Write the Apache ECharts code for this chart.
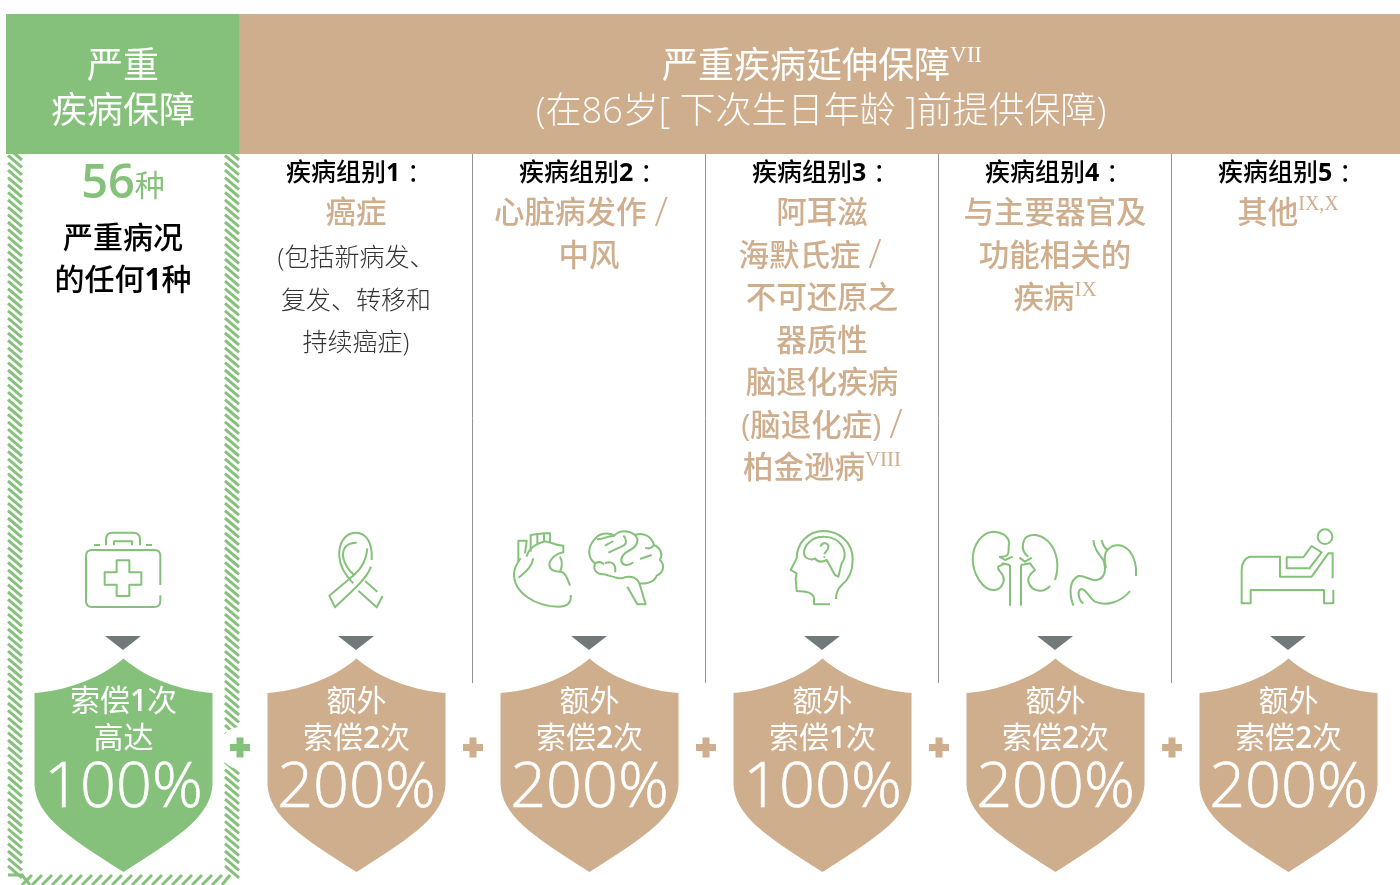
<!DOCTYPE html>
<html>
<head>
<meta charset="utf-8">
<title>严重疾病保障</title>
<style>
  html, body { margin: 0; padding: 0; background: #fff; }
  #chart { width: 1400px; height: 885px; }
</style>
<script src="https://cdn.jsdelivr.net/npm/echarts@6/dist/echarts.min.js"></script>
</head>
<body>
<div id="chart"></div>
<script>
// 数据
const categories = ['严重疾病', '疾病组别1', '疾病组别2', '疾病组别3', '疾病组别4', '疾病组别5']
const groupTitles = ['', '疾病组别1 ：', '疾病组别2 ：', '疾病组别3 ：', '疾病组别4 ：', '疾病组别5 ：']
const groupNames = [
  [],
  ['癌症'],
  ['心脏病发作 /\u00a0\u00a0', '中风'],
  ['阿耳滋', '海默氏症 /\u00a0\u00a0\u00a0', '不可还原之', '器质性', '脑退化疾病', '(脑退化症) /', '柏金逊病'],
  ['与主要器官及', '功能相关的', '疾病'],
  ['其他']
]
const groupNotes = ['', '', '', 'VIII', 'IX', 'IX,X']
const cancerNotes = ['(包括新病发、', '复发、转移和', '持续癌症)']
const mainCount = '56'
const mainCountUnit = '种'
const mainLines = ['严重病况', '的任何1种']
const claimLines = [
  ['索偿1次', '高达'],
  ['额外', '索偿2次'],
  ['额外', '索偿2次'],
  ['额外', '索偿1次'],
  ['额外', '索偿2次'],
  ['额外', '索偿2次']
]
const claimPercents = ['100%', '200%', '200%', '100%', '200%', '200%']
const headerLeft = ['严重', '疾病保障']
const headerRight = '严重疾病延伸保障'
const headerRightNote = 'VII'
const headerRightSub = '(在86岁[ 下次生日年龄 ]前提供保障)'

// 颜色配置
const GREEN = '#85c17a'
const TAN = '#cfae8d'
const GREY = '#72797b'
const RULE = '#8f9599'
const FONT = '"Open Sans","Noto Sans CJK SC",sans-serif'
const CJK = '"Noto Sans CJK SC",sans-serif'
const NOTE_FONT = '"Liberation Serif",serif'

// 图标路径（放大3倍的坐标）
const icons = [
  [0, 500, [
    'M481 255V168Q481 150 463 150H276Q258 150 258 168V303Q258 321 276 321H463Q481 321 481 303V286',
    'M318 136V118Q318 98 338 98H400Q420 98 420 118V136M342 136V124H396V136M282 135H300M438 135H456',
    'M350 181H388V217H424V254H388V288H350V254H314V217H350Z'
  ]],
  [0, 500, [
    'M1115 180C1118 130 1100 98 1067 98C1035 98 1015 130 1018 170C1020 205 1040 230 1060 250',
    'M1113 200C1105 225 1085 245 1068 262L1005 322L988 287L1062 225C1085 205 1100 175 1102 145',
    'M1095 243L1132 275M1148 288L1130 322L1075 272',
    'M1070 128C1040 128 1025 145 1030 175C1035 195 1045 210 1062 225'
  ]],
  [480, 515, [
    'M272 240C275 265 260 275 235 275C170 275 100 235 102 175C103 155 115 140 122 130',
    'M115 140V77H140L135 115M152 110V60L172 57V85M172 58L192 55V78M192 55H210V82',
    'M140 125C145 100 170 85 190 80C205 75 215 90 250 92V112C230 115 210 130 208 148C208 165 225 170 240 170C255 170 262 190 270 212',
    'M116 188C130 175 155 160 160 130M240 170C250 150 245 135 240 125',
    'M345 72C355 55 385 50 402 62C420 45 445 45 465 60C490 50 515 65 522 90C545 100 548 120 540 135C555 150 552 172 530 182C525 200 500 208 478 205C470 185 445 180 425 190C405 190 385 180 372 178C350 178 338 165 345 145C322 128 322 95 345 72Z',
    'M350 72C365 75 375 65 402 62M375 92L400 78M385 113L430 92C445 85 435 65 430 62M465 60C480 75 470 95 450 105C430 115 420 130 425 142C432 155 450 150 460 142M480 132L515 120M522 90C515 100 505 102 495 98M375 145C395 135 410 150 405 172M345 145C355 140 365 140 372 148',
    'M478 205L497 268H472L442 215'
  ]],
  [480, 515, [
    'M1050 268H1002V250C1000 235 985 228 950 228L947 190L950 175L932 165L950 130C950 85 985 48 1030 48C1080 48 1120 85 1118 135C1118 170 1105 195 1085 210C1070 225 1068 240 1068 252',
    'M1065 180L1075 185L1085 145C1100 125 1095 100 1080 85C1060 60 1010 60 990 80C975 90 968 110 975 125C985 135 1000 135 1005 130C1015 145 1030 140 1040 135C1050 150 1055 165 1065 180Z',
    'M1022 95C1025 80 1048 82 1045 98C1043 110 1033 110 1033 118M1033 124V128'
  ]],
  [950, 515, [
    'M148 125C190 130 170 95 178 85C175 60 150 50 130 50C95 52 68 90 68 135C70 180 100 225 130 225C155 225 165 200 160 185C155 170 140 165 145 155L165 145',
    'M180 150V272M213 150V272M148 125L165 135L188 125M155 145L180 150',
    'M235 125C215 110 215 90 225 70C240 55 270 55 295 80C320 105 330 150 315 195',
    'M300 213C280 235 245 232 235 200C232 180 250 170 255 165L240 145L213 150M208 128L225 140L245 128',
    'M430 75C432 100 445 115 460 135C470 165 465 190 440 195C425 200 405 180 385 183C360 195 355 230 370 272',
    'M455 75C458 90 465 100 472 105C490 85 520 85 540 110C555 130 560 155 558 183M472 105C462 115 462 135 468 160',
    'M540 228C515 260 470 275 435 260C420 250 410 225 395 222C380 225 385 255 400 265'
  ]],
  [950, 515, [
    'M1148 190V115H1135L1085 185H990V125H905C885 125 875 145 875 165V265H902V225H1122V265H1150V225',
    'M1010 127H1060L1085 93L1115 112L1078 160H1010Z',
    'M1147 65A22 22 0 1 1 1103 65A22 22 0 1 1 1147 65Z'
  ]]
]

const text = (str, x, y, size, fill, weight, extra) => ({
  type: 'text',
  style: Object.assign({
    text: str, x, y, fill,
    fontSize: size, fontWeight: weight || 400, fontFamily: FONT,
    align: 'center', verticalAlign: 'middle'
  }, extra || {})
})

// 数字、斜线、冒号用不同字重
const mixed = (str, x, y, size, fill, weight, digitWeight, note, noteSize) => {
  let s = str
    .replace(/[^0-9/：]+/g, m => `{c|${m}}`)
    .replace(/[0-9]+/g, m => `{d|${m}}`)
    .replace(/\//g, '{l|/}')
    .replace(/：/g, '{k|：}')
  if (note) s += `{s|${note}}`
  const lh = Math.round(size * 1.3)
  const base = { fill, lineHeight: lh }
  return text(s, x, y, size, fill, weight, {
    rich: {
      c: { ...base, fontSize: size, fontWeight: weight, fontFamily: FONT },
      d: { ...base, fontSize: size, fontWeight: digitWeight, fontFamily: FONT },
      l: { ...base, fontSize: size * 1.3, fontWeight: 300, fontFamily: FONT },
      k: { ...base, fontSize: size, fontWeight: 400, fontFamily: FONT },
      s: { fill, fontSize: noteSize, fontWeight: 400, fontFamily: NOTE_FONT, lineHeight: noteSize + 7, verticalAlign: 'top' }
    }
  })
}

// 斜线纹边框
const hatchPath = () => {
  let d = ''
  for (let y = 148; y < 872; y += 7.4) {
    d += `M8 ${y}L22 ${y + 12}M225 ${y}L239 ${y + 12}`
  }
  for (let x = 22; x < 222; x += 10) {
    d += `M${x} 885L${x + 10} 875`
  }
  d += 'M8 875H22L30 885M230 875L222 885'
  return d
}

const shieldPath = cx => {
  const l = cx - 89
  const r = cx + 89
  return `M${cx} 658.5C${cx - 25} 680 ${cx - 60} 691 ${l} 693L${l} 785C${l + 2} 815 ${l + 30} 835 ${cx} 872C${r - 30} 835 ${r - 2} 815 ${r} 785L${r} 693C${cx + 60} 691 ${cx + 25} 680 ${cx} 658.5Z`
}

const plusPath = (x, y) => `M${x - 3.5} ${y - 10}h7v6.5h6.5v7h-6.5v6.5h-7v-6.5h-6.5v-7h6.5Z`

// 顶部标题栏
const renderHeader = (params, api) => {
  const left = api.coord([0, 0])[0]
  const mid = api.coord([1, 0])[0]
  const edge = Math.floor((left + mid) / 2)
  return {
    type: 'group',
    children: [
      { type: 'rect', shape: { x: 6, y: 14, width: edge - 6, height: 140 }, style: { fill: GREEN } },
      { type: 'rect', shape: { x: edge, y: 14, width: 1400 - edge, height: 140 }, style: { fill: TAN } },
      text(headerLeft[0], left, 68, 36, '#fff', 400),
      text(headerLeft[1], left, 113, 36, '#fff', 400),
      mixed(headerRight, 822, 68, 36, '#fff', 400, 400, headerRightNote, 23),
      text(headerRightSub, 821, 113, 36, '#fff', 300)
    ]
  }
}

// 每一栏
const renderColumn = (params, api) => {
  const i = api.value(0)
  const cx = api.coord([i, 0])[0]
  const fill = i === 0 ? GREEN : TAN
  const children = []

  if (i === 0) {
    children.push({ type: 'path', shape: { pathData: hatchPath() }, style: { fill: 'none', stroke: GREEN, lineWidth: 3 } })
    children.push({ type: 'circle', shape: { cx: 240, cy: 748, r: 21 }, style: { fill: '#fff' } })
    children.push(text(`{a|${mainCount}}{b|${mainCountUnit}}`, cx, 185, 47, GREEN, 700, {
      rich: {
        a: { fontSize: 47, fontWeight: 600, fontFamily: FONT, fill: GREEN },
        b: { fontSize: 30, fontWeight: 400, fontFamily: CJK, fill: GREEN, lineHeight: 42, verticalAlign: 'middle' }
      }
    }))
    mainLines.forEach((s, k) => children.push(mixed(s, cx, 239 + k * 42, 30, '#000', 500, 700)))
  } else {
    const edge = cx + 116.5
    if (i < 5) {
      children.push({ type: 'line', shape: { x1: edge, y1: 154, x2: edge, y2: 683 }, style: { stroke: RULE, lineWidth: 1 } })
    }
    children.push(mixed(groupTitles[i], cx + 3, 174, 25, '#000', 500, 700))
    groupNames[i].forEach((s, k) => {
      const y = 214.5 + k * 42.5
      const last = k === groupNames[i].length - 1
      children.push(mixed(s, cx, y, 30.5, TAN, 500, 500, last ? groupNotes[i] : '', i === 5 ? 20 : 21))
    })
    if (i === 1) {
      cancerNotes.forEach((s, k) => children.push(text(s, cx, 259 + k * 42.5, 25, '#333', 300)))
    }
  }

  // 图标
  const [ox, oy, paths] = icons[i]
  children.push({
    type: 'group', x: ox, y: oy, scaleX: 1 / 3, scaleY: 1 / 3,
    children: paths.map(d => ({ type: 'path', shape: { pathData: d }, style: { fill: 'none', stroke: GREEN, lineWidth: 6, lineJoin: 'round' } }))
  })

  // 三角形
  children.push({ type: 'polygon', shape: { points: [[cx - 18, 636], [cx + 18, 636], [cx, 650]] }, style: { fill: GREY } })

  // 盾牌
  const sx = cx + 0.5
  children.push({ type: 'path', shape: { pathData: shieldPath(sx) }, style: { fill } })
  children.push(mixed(claimLines[i][0], sx, 702, 30, '#fff', 400, 600))
  children.push(mixed(claimLines[i][1], sx, 739, 30, '#fff', 400, 600))
  children.push(text(claimPercents[i], sx, 789, 63, '#fff', 300, { stroke: '#fff', lineWidth: 0.6 }))

  // 加号
  if (i < 5) {
    children.push({ type: 'path', shape: { pathData: plusPath(cx + 117, 747.5) }, style: { fill } })
  }
  return { type: 'group', children }
}

const chart = echarts.init(document.getElementById('chart'))
chart.setOption({
  animation: false,
  backgroundColor: '#fff',
  grid: { left: 6.5, width: 1398, top: 0, height: 885, outerBoundsMode: 'none' },
  xAxis: { type: 'category', data: categories, show: false },
  yAxis: { type: 'value', min: 0, max: 885, inverse: true, show: false },
  series: [
    { type: 'custom', clip: false, silent: true, data: [[0]], encode: { x: 0 }, renderItem: renderHeader },
    { type: 'custom', clip: false, silent: true, data: categories.map((c, i) => [i]), encode: { x: 0 }, renderItem: renderColumn }
  ]
})
</script>
</body>
</html>
